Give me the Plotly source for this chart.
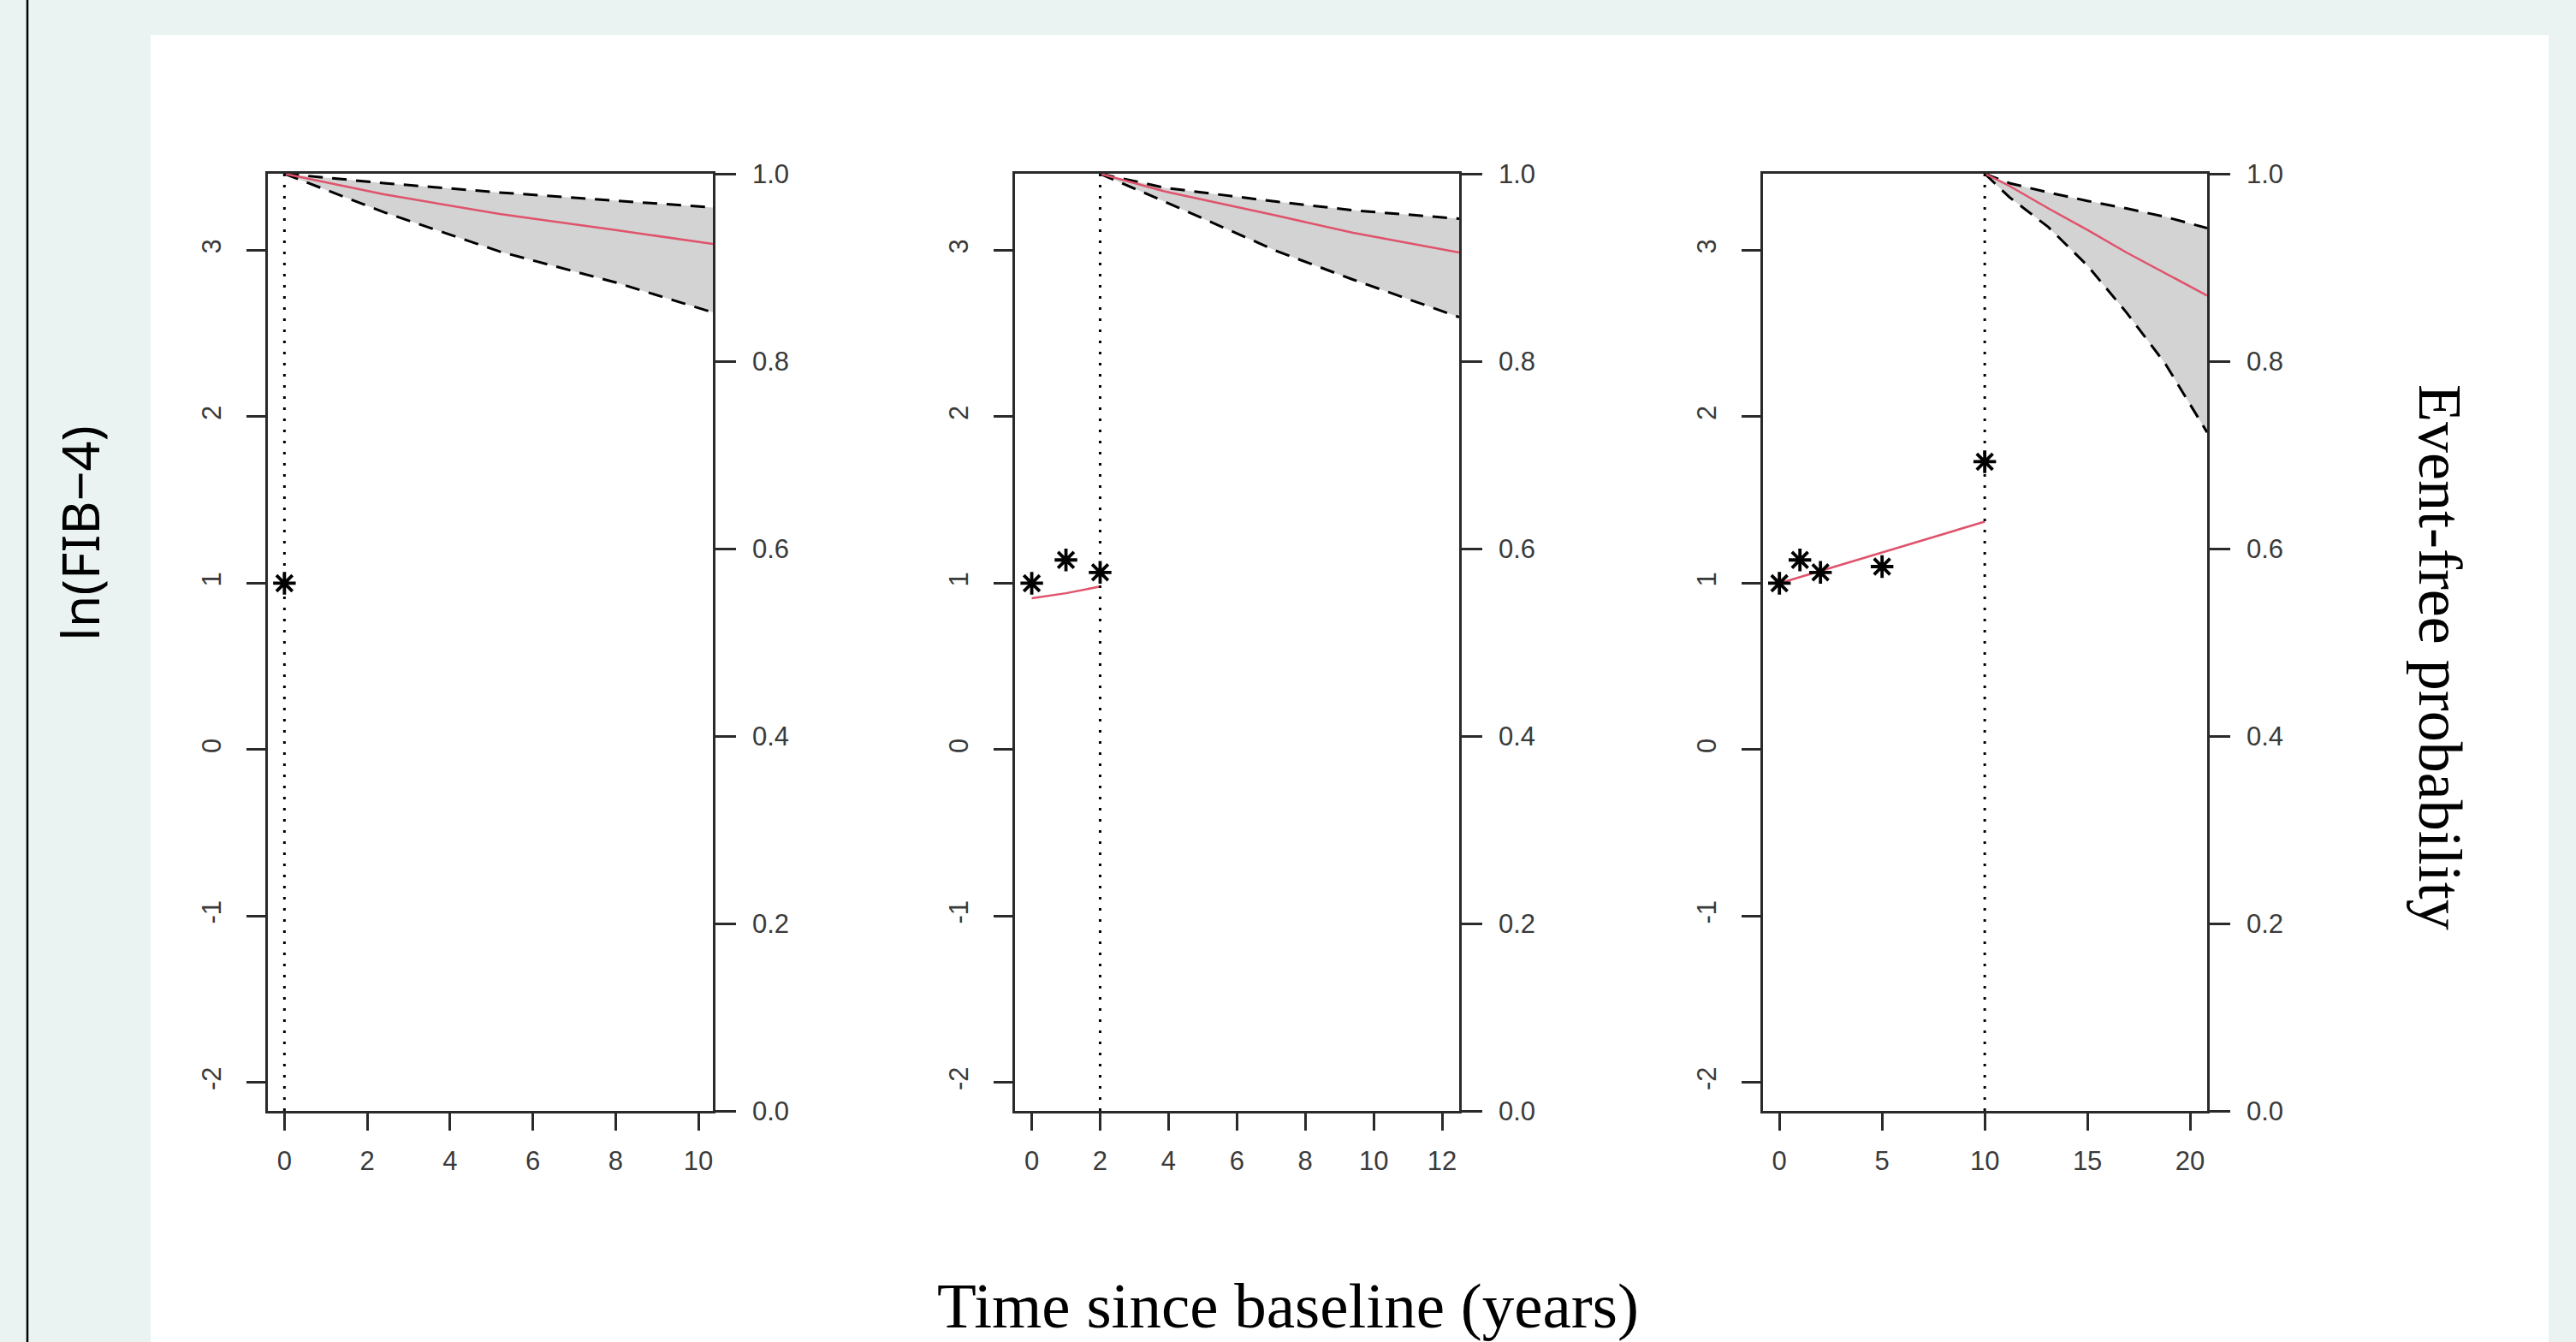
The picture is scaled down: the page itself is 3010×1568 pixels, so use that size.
import plotly.graph_objects as go

# ---------------- data ----------------
landmark_times = [0, 2, 10]

obs_t1 = [0]
obs_y1 = [1.0]
fit_t1 = [0]
fit_y1 = [1.0]

obs_t2 = [0, 1, 2]
obs_y2 = [1.0, 1.14, 1.065]
fit_t2 = [0, 1, 2]
fit_y2 = [0.91, 0.94, 0.98]

obs_t3 = [0, 1, 2, 5, 10]
obs_y3 = [1.0, 1.14, 1.065, 1.10, 1.73]
fit_t3 = [0, 10]
fit_y3 = [1.0, 1.37]

surv_t1 = [0, 2.4, 5.2, 8.0, 10.35]
surv_mean1 = [1.0, 0.978, 0.957, 0.940, 0.925]
surv_up1 = [1.0, 0.990, 0.980, 0.971, 0.964]
surv_lo1 = [1.0, 0.959, 0.917, 0.884, 0.852]

surv_t2 = [2, 3.9, 7.2, 9.4, 12.5]
surv_mean2 = [1.0, 0.981, 0.955, 0.937, 0.916]
surv_up2 = [1.0, 0.985, 0.970, 0.961, 0.952]
surv_lo2 = [1.0, 0.970, 0.917, 0.887, 0.847]

surv_t3 = [10, 11.2, 13.1, 15.0, 16.9, 18.8, 20.83]
surv_mean3 = [1.0, 0.987, 0.963, 0.940, 0.916, 0.894, 0.870]
surv_up3 = [1.0, 0.990, 0.980, 0.971, 0.963, 0.954, 0.942]
surv_lo3 = [1.0, 0.975, 0.943, 0.902, 0.852, 0.797, 0.724]

x_ranges = [[-0.4, 10.35], [-0.49, 12.5], [-0.8, 20.83]]
x_tickvals = [[0, 2, 4, 6, 8, 10], [0, 2, 4, 6, 8, 10, 12], [0, 5, 10, 15, 20]]
left_tickvals = [-2, -1, 0, 1, 2, 3]
left_ticktext = ["-2", "-1", "0", "1", "2", "3"]
right_tickvals = [0.0, 0.2, 0.4, 0.6, 0.8, 1.0]
right_ticktext = ["0.0", "0.2", "0.4", "0.6", "0.8", "1.0"]
y_left_range = [-2.17, 3.46]

panels = [
    (obs_t1, obs_y1, fit_t1, fit_y1, surv_t1, surv_mean1, surv_up1, surv_lo1),
    (obs_t2, obs_y2, fit_t2, fit_y2, surv_t2, surv_mean2, surv_up2, surv_lo2),
    (obs_t3, obs_y3, fit_t3, fit_y3, surv_t3, surv_mean3, surv_up3, surv_lo3),
]

# ---------------- styling ----------------
W, H = 3010, 1568
BG = "#EAF3F2"
AXC = "#2a2a2a"
TICKC = "#3a3a3a"
RED = "#DF536B"
GREY = "#D3D3D3"
x_domains = [[313 / W, 833 / W], [1186 / W, 1705 / W], [2060 / W, 2579 / W]]
y_domain = [1 - 1298 / H, 1 - 203 / H]
tickfont = dict(family="Liberation Sans, Arial, sans-serif", size=31, color=TICKC)

fig = go.Figure()
shapes = []

for i, (ot, oy, ft, fy, st, sm, su, sl) in enumerate(panels):
    n = i + 1
    xa = "x" if n == 1 else f"x{n}"
    yl = "y" if n == 1 else f"y{n}"
    yr = f"y{n + 3}"

    # confidence band
    fig.add_trace(go.Scatter(
        x=st + st[::-1], y=su + sl[::-1], fill="toself", fillcolor=GREY,
        line=dict(width=0), mode="lines", xaxis=xa, yaxis=yr, hoverinfo="skip"))
    # dashed limits
    for band in (su, sl):
        fig.add_trace(go.Scatter(
            x=st, y=band, mode="lines", xaxis=xa, yaxis=yr,
            line=dict(color="black", width=3, dash="17px,11px")))
    # mean survival
    fig.add_trace(go.Scatter(
        x=st, y=sm, mode="lines", xaxis=xa, yaxis=yr,
        line=dict(color=RED, width=2.5)))
    # fitted longitudinal
    if len(ft) > 1:
        fig.add_trace(go.Scatter(
            x=ft, y=fy, mode="lines", xaxis=xa, yaxis=yl,
            line=dict(color=RED, width=2.5)))
    # observed
    fig.add_trace(go.Scatter(
        x=ot, y=oy, mode="markers", xaxis=xa, yaxis=yl,
        marker=dict(symbol="asterisk-open", size=22, color="black",
                    line=dict(color="black", width=3.8))))

    # vertical dotted line at landmark time
    shapes.append(dict(type="line", xref=xa, yref=f"{yl} domain",
                       x0=landmark_times[i], x1=landmark_times[i], y0=0, y1=1,
                       line=dict(color="black", width=3, dash="3px,10px")))

    fig.layout[f"xaxis{'' if n == 1 else n}"] = dict(
        domain=x_domains[i], range=x_ranges[i], anchor=yl, automargin=False,
        showline=True, linecolor=AXC, linewidth=2.5, mirror=True,
        ticks="outside", ticklen=20, tickwidth=2.5, tickcolor=AXC,
        tickvals=x_tickvals[i], tickfont=tickfont, ticklabelstandoff=9,
        showgrid=False, zeroline=False)
    fig.layout[f"yaxis{'' if n == 1 else n}"] = dict(
        domain=y_domain, range=y_left_range, anchor=xa, side="left", automargin=False,
        showline=True, linecolor=AXC, linewidth=2.5,
        ticks="outside", ticklen=22, tickwidth=2.5, tickcolor=AXC,
        tickvals=left_tickvals, ticktext=left_ticktext, tickangle=-90,
        tickfont=tickfont, ticklabelstandoff=18,
        showgrid=False, zeroline=False)
    fig.layout[f"yaxis{n + 3}"] = dict(
        overlaying=yl, anchor=xa, side="right", range=[0, 1], automargin=False,
        showline=True, linecolor=AXC, linewidth=2.5,
        ticks="outside", ticklen=24, tickwidth=2.5, tickcolor=AXC,
        tickvals=right_tickvals, ticktext=right_ticktext,
        tickfont=tickfont, ticklabelstandoff=13,
        showgrid=False, zeroline=False)

# page decoration
shapes.insert(0, dict(type="rect", xref="paper", yref="paper",
                      x0=176 / W, x1=2978 / W, y0=0, y1=1 - 41 / H,
                      fillcolor="white", line=dict(width=0), layer="below"))
shapes.append(dict(type="line", xref="paper", yref="paper",
                   x0=32 / W, x1=32 / W, y0=0, y1=1,
                   line=dict(color="black", width=2.5)))

annotations = [
    dict(text="ln(FIB\u22124)", xref="paper", yref="paper", x=92 / W, y=1 - 623 / H,
         textangle=-90, showarrow=False, xanchor="center", yanchor="middle",
         font=dict(family="Noto Sans, Open Sans, sans-serif", size=61, color="black")),
    dict(text="Time since baseline (years)", xref="paper", yref="paper",
         x=1505 / W, y=0, showarrow=False, xanchor="center", yanchor="bottom",
         borderpad=0,
         font=dict(family="Liberation Serif, Times New Roman, serif", size=75, color="black")),
    dict(text="Event-free probability", xref="paper", yref="paper",
         x=2851 / W, y=1 - 768 / H, textangle=90, showarrow=False,
         xanchor="center", yanchor="middle",
         font=dict(family="Liberation Serif, Times New Roman, serif", size=72, color="black")),
]

fig.update_layout(
    width=W, height=H, margin=dict(l=0, r=0, t=0, b=0, autoexpand=False),
    paper_bgcolor=BG, plot_bgcolor="rgba(0,0,0,0)",
    showlegend=False, shapes=shapes, annotations=annotations,
)

post = ("document.documentElement.style.margin='0';"
        "document.documentElement.style.overflow='hidden';"
        "document.body.style.margin='0';document.body.style.padding='0';"
        "document.body.style.overflow='hidden';"
        "document.body.style.background='" + BG + "';")

fig.write_html("out.html", post_script=post,
               config={"responsive": False, "displayModeBar": False})
